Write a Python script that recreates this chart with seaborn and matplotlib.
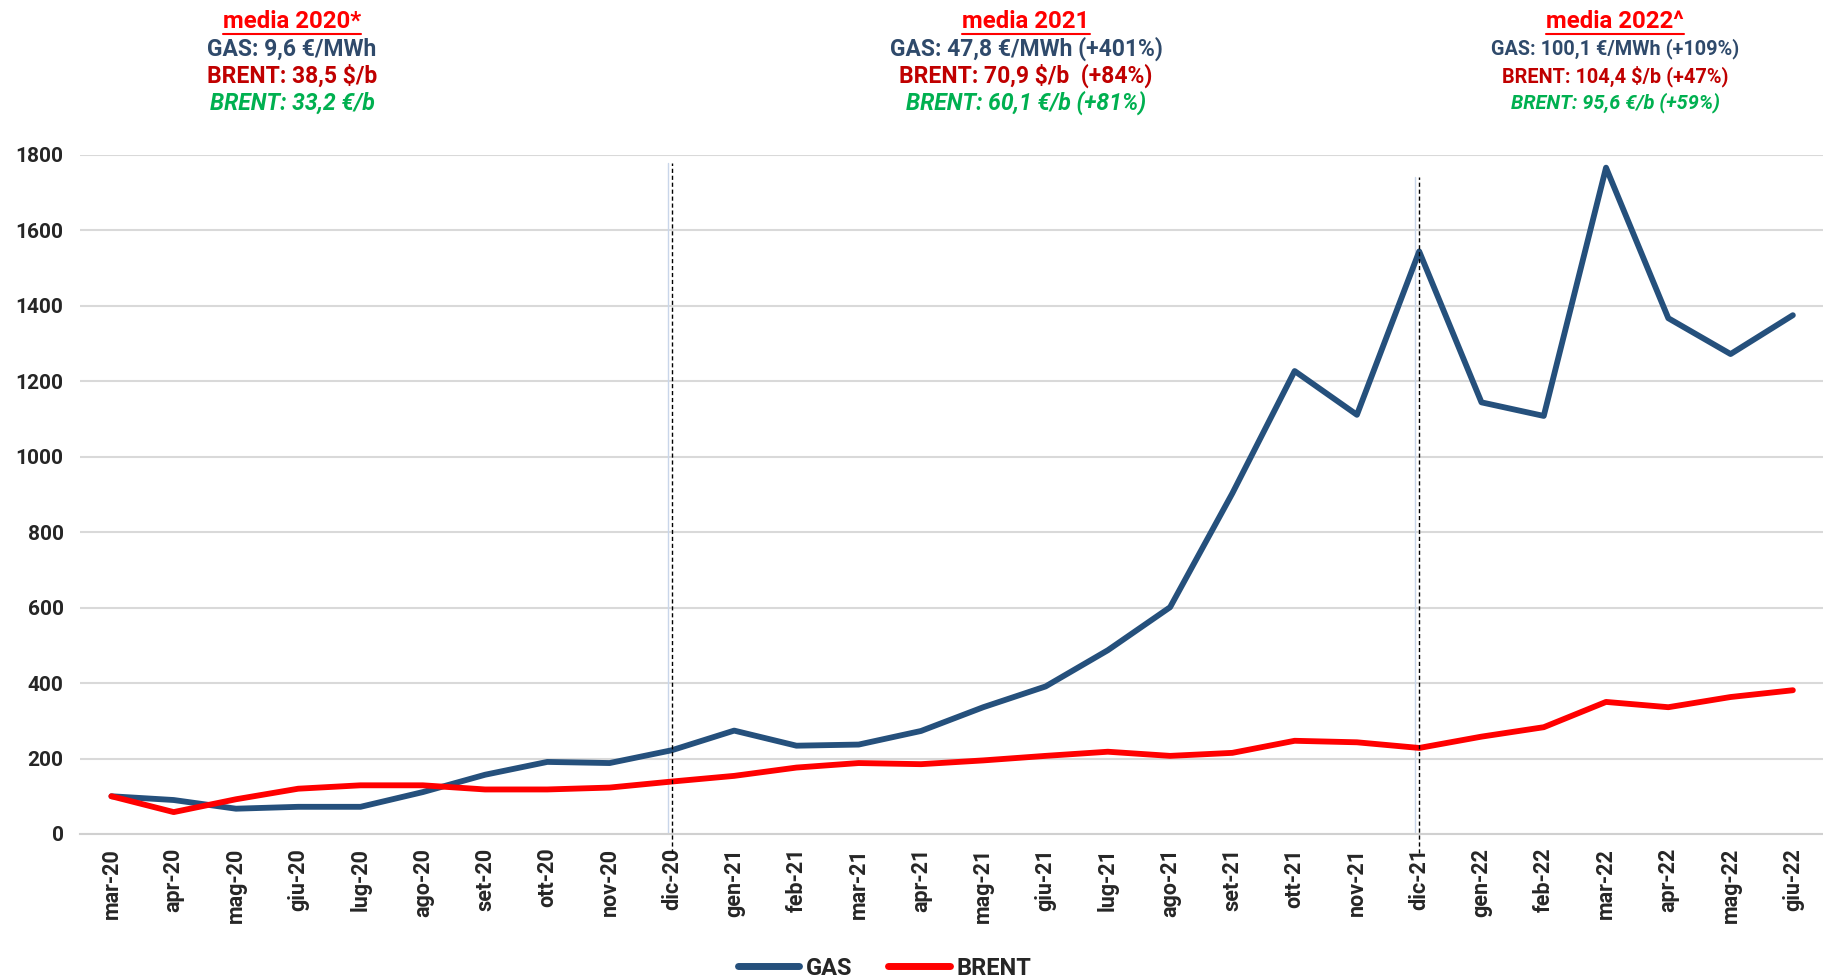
import pandas as pd
import matplotlib.pyplot as plt
import seaborn as sns

# monthly index, mar-20 = 100
months = ['mar-20', 'apr-20', 'mag-20', 'giu-20', 'lug-20', 'ago-20', 'set-20', 'ott-20',
          'nov-20', 'dic-20', 'gen-21', 'feb-21', 'mar-21', 'apr-21', 'mag-21', 'giu-21',
          'lug-21', 'ago-21', 'set-21', 'ott-21', 'nov-21', 'dic-21', 'gen-22', 'feb-22',
          'mar-22', 'apr-22', 'mag-22', 'giu-22']
gas = [100, 90, 67, 72, 72, 111, 157, 191, 188, 222, 274, 234, 237, 273, 336, 391,
       487, 601, 903, 1227, 1111, 1544, 1144, 1108, 1766, 1367, 1272, 1375]
brent = [100, 58, 92, 120, 129, 129, 118, 118, 123, 139, 154, 176, 188, 185, 195, 207,
         218, 207, 215, 247, 243, 228, 258, 283, 350, 336, 363, 381]

# yearly averages shown above the chart
year_titles = ['media 2020*', 'media 2021', 'media 2022^']
gas_avg = ['GAS: 9,6 €/MWh', 'GAS: 47,8 €/MWh (+401%)', 'GAS: 100,1 €/MWh (+109%)']
brent_usd = ['BRENT: 38,5 $/b', 'BRENT: 70,9 $/b  (+84%)', 'BRENT: 104,4 $/b (+47%)']
brent_eur = ['BRENT: 33,2 €/b', 'BRENT: 60,1 €/b (+81%)', 'BRENT: 95,6 €/b (+59%)']

df = pd.DataFrame({'mese': months * 2,
                   'valore': gas + brent,
                   'serie': ['GAS'] * len(months) + ['BRENT'] * len(months)})
df['pos'] = list(range(len(months))) * 2

sns.set_style('white')
plt.rcParams['font.family'] = ['Roboto', 'DejaVu Sans']

blue = '#25507c'
red = '#ff0000'

fig = plt.figure(figsize=(18.24, 9.8), dpi=100)
ax = fig.add_axes([0.044, 0.149, 0.956, 0.693])

sns.lineplot(data=df, x='pos', y='valore', hue='serie', palette={'GAS': blue, 'BRENT': red},
             linewidth=4.2, ax=ax, legend=False)

ax.set_xlim(-0.5, len(months) - 0.5)
ax.set_ylim(0, 1800)
ax.set_yticks(range(0, 1801, 200))
ax.set_xticks(range(len(months)))
ax.set_xticklabels(months, rotation=90, fontsize=15.5, fontweight='bold')
ax.set_xticks([i + 0.5 for i in range(-1, len(months))], minor=True)
ax.tick_params(axis='x', which='major', length=0, pad=10)
ax.tick_params(axis='x', which='minor', length=8, color='#d0d0d0', width=1.5)
ax.tick_params(axis='y', length=0, labelsize=15, pad=12)
for t in ax.get_yticklabels():
    t.set_fontweight('bold')
ax.set_xlabel('')
ax.set_ylabel('')
ax.grid(axis='y', color='#d9d9d9', linewidth=1.5)
for s in ['top', 'right', 'left']:
    ax.spines[s].set_visible(False)
ax.spines['bottom'].set_color('#d0d0d0')
ax.spines['bottom'].set_linewidth(1.5)

# separators between years
for xpos, top in [(9, 1778), (21, 1742)]:
    ax.plot([xpos - 0.07, xpos - 0.07], [0, top], color='#c9d6ea', linewidth=1, zorder=1)
    ax.plot([xpos, xpos], [-50, top], color='black', linestyle='--', dashes=(3, 2),
            linewidth=1, clip_on=False, zorder=4)

# yearly averages
centers = [292, 1026, 1615]
sizes = [16.5, 16.5, 14.3]
fig.canvas.draw()
renderer = fig.canvas.get_renderer()
for i in range(3):
    xf = centers[i] / 1824
    fs = sizes[i]
    t = fig.text(xf, 1 - 22 / 980, year_titles[i], ha='center', va='center', color=red,
                 fontsize=17.3, fontweight='bold')
    bb = t.get_window_extent(renderer)
    yl = (bb.y0 - 1) / 980
    fig.add_artist(plt.Line2D([bb.x0 / 1824, bb.x1 / 1824], [yl, yl], color=red, linewidth=1.5))
    fig.text(xf, 1 - 49 / 980, gas_avg[i], ha='center', va='center', color='#2f4a6b',
             fontsize=fs, fontweight='bold')
    fig.text(xf, 1 - 76 / 980, brent_usd[i], ha='center', va='center', color='#c00000',
             fontsize=fs, fontweight='bold')
    fig.text(xf, 1 - 103 / 980, brent_eur[i], ha='center', va='center', color='#00b050',
             fontsize=fs, fontweight='bold', style='italic')

# legend
handles = [plt.Line2D([], [], color=blue, linewidth=5, solid_capstyle='round'),
           plt.Line2D([], [], color=red, linewidth=5, solid_capstyle='round')]
leg = fig.legend(handles, ['GAS', 'BRENT'], loc='center', bbox_to_anchor=(0.485, 1 - 968 / 980),
                 ncol=2, frameon=False, handlelength=2.6, handletextpad=0.3, columnspacing=1.5,
                 prop={'weight': 'bold', 'size': 17})

fig.savefig('out.png', dpi=100)
